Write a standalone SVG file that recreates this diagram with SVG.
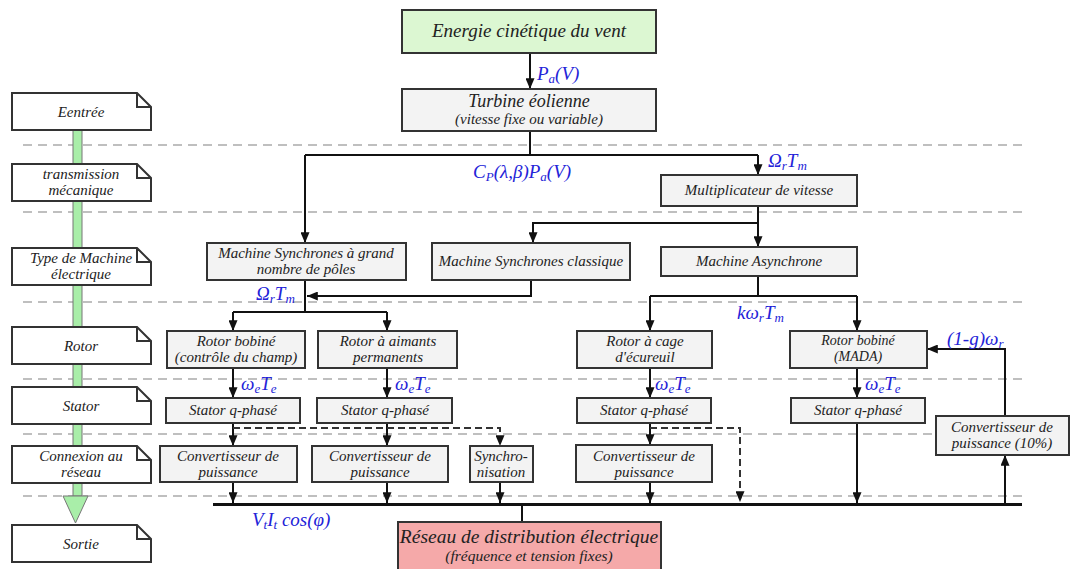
<svg xmlns="http://www.w3.org/2000/svg" width="1071" height="569" viewBox="0 0 1071 569" font-family="'Liberation Serif', 'DejaVu Serif', serif">
<style>
.box{fill:#f3f3f3;stroke:#333;stroke-width:2}
.note{fill:#fff;stroke:#333;stroke-width:2;stroke-linejoin:miter}
.t{font-family:'Liberation Serif','DejaVu Serif',serif;font-style:italic;fill:#222;text-anchor:middle;font-size:15px}
.s{font-size:13px}
.m{font-family:'Liberation Serif','DejaVu Serif',serif;font-style:italic;fill:#2323d8;font-size:19px}
.sub{font-size:13px}
.c{fill:none;stroke:#111;stroke-width:2}
.d{fill:none;stroke:#333;stroke-width:2;stroke-dasharray:7,4}
.g{fill:none;stroke:#aaa;stroke-width:1.5;stroke-dasharray:9,6}
</style>
<defs>
<marker id="ah" viewBox="0 0 12 10" refX="12" refY="5" markerWidth="12" markerHeight="9" markerUnits="userSpaceOnUse" orient="auto">
<path d="M0,0 L12,5 L0,10 Z" fill="#111"/>
</marker>
</defs>
<rect width="1071" height="569" fill="#fff"/>

<g id="layers">
<path class="g" d="M23,145 H1028 M23,212 H1028 M23,302 H1028 M23,379 H1028 M23,434 H1028 M23,496 H1028"/>
</g>

<g id="flow-bar">
<rect x="73" y="130" width="9" height="366" fill="#a9eea9" stroke="#777" stroke-width="1"/>
<path d="M63,496 H88 L75.5,523 Z" fill="#a9eea9" stroke="#777" stroke-width="1"/>
</g>

<g id="note-entree"><path class="note" d="M12,93 H137 L151,107 V130 H12 Z M137,93 V107 H151"/><text class="t" x="81" y="117">Eentrée</text></g>
<g id="note-transmission"><path class="note" d="M12,164 H137 L151,178 V201 H12 Z M137,164 V178 H151"/><text class="t" x="81" y="179">transmission</text><text class="t" x="81" y="195">mécanique</text></g>
<g id="note-type"><path class="note" d="M12,248 H137 L151,262 V285 H12 Z M137,248 V262 H151"/><text class="t" x="81" y="263">Type de Machine</text><text class="t" x="81" y="279">électrique</text></g>
<g id="note-rotor"><path class="note" d="M12,327 H137 L151,341 V364 H12 Z M137,327 V341 H151"/><text class="t" x="81" y="351">Rotor</text></g>
<g id="note-stator"><path class="note" d="M12,387 H137 L151,401 V424 H12 Z M137,387 V401 H151"/><text class="t" x="81" y="411">Stator</text></g>
<g id="note-connexion"><path class="note" d="M12,446 H137 L151,460 V483 H12 Z M137,446 V460 H151"/><text class="t" x="81" y="461">Connexion au</text><text class="t" x="81" y="477">réseau</text></g>
<g id="note-sortie"><path class="note" d="M12,525 H137 L151,539 V562 H12 Z M137,525 V539 H151"/><text class="t" x="81" y="549">Sortie</text></g>

<g id="connectors">
<path class="c" d="M530,53 V89" marker-end="url(#ah)"/>
<path class="c" d="M530,131 V155 M305,155 H758"/>
<path class="c" d="M305,155 V243" marker-end="url(#ah)"/>
<path class="c" d="M758,155 V175" marker-end="url(#ah)"/>
<path class="c" d="M758,206 V247" marker-end="url(#ah)"/>
<path class="c" d="M758,223 H533 V243" marker-end="url(#ah)"/>
<path class="c" d="M305,280 V312 M233,312 H387"/>
<path class="c" d="M531,280 V296 H307" marker-end="url(#ah)"/>
<path class="c" d="M233,312 V331" marker-end="url(#ah)"/>
<path class="c" d="M387,312 V331" marker-end="url(#ah)"/>
<path class="c" d="M758,276 V296 M650,296 H857"/>
<path class="c" d="M650,296 V331" marker-end="url(#ah)"/>
<path class="c" d="M857,296 V331" marker-end="url(#ah)"/>
<path class="c" d="M233,368 V398" marker-end="url(#ah)"/>
<path class="c" d="M387,368 V398" marker-end="url(#ah)"/>
<path class="c" d="M650,368 V398" marker-end="url(#ah)"/>
<path class="c" d="M857,368 V398" marker-end="url(#ah)"/>
<path class="c" d="M233,423 V446" marker-end="url(#ah)"/>
<path class="c" d="M387,423 V446" marker-end="url(#ah)"/>
<path class="c" d="M650,423 V445" marker-end="url(#ah)"/>
<path class="d" d="M233,428 H500 V446" marker-end="url(#ah)"/>
<path class="d" d="M650,428 H740 V502" marker-end="url(#ah)"/>
<path class="c" d="M233,482 V503" marker-end="url(#ah)"/>
<path class="c" d="M387,482 V503" marker-end="url(#ah)"/>
<path class="c" d="M500,482 V503" marker-end="url(#ah)"/>
<path class="c" d="M650,482 V503" marker-end="url(#ah)"/>
<path class="c" d="M857,423 V503" marker-end="url(#ah)"/>
<path class="c" d="M1005,504 V455" marker-end="url(#ah)"/>
<path class="c" d="M1005,415 V349 H927" marker-end="url(#ah)"/>
<path class="c" d="M522,504 V522"/>
<path fill="none" stroke="#111" stroke-width="3" d="M213,504.5 H1022"/>
</g>

<g id="labels">
<text class="m" x="537" y="80">P<tspan class="sub" dy="3">a</tspan><tspan dy="-3">(V)</tspan></text>
<text class="m" x="473" y="178">C<tspan class="sub" dy="3">P</tspan><tspan dy="-3">(λ,β)P</tspan><tspan class="sub" dy="3">a</tspan><tspan dy="-3">(V)</tspan></text>
<text class="m" x="768" y="167">Ω<tspan class="sub" dy="3">r</tspan><tspan dy="-3">T</tspan><tspan class="sub" dy="3">m</tspan></text>
<text class="m" x="256" y="300">Ω<tspan class="sub" dy="3">r</tspan><tspan dy="-3">T</tspan><tspan class="sub" dy="3">m</tspan></text>
<text class="m" x="737" y="319">kω<tspan class="sub" dy="3">r</tspan><tspan dy="-3">T</tspan><tspan class="sub" dy="3">m</tspan></text>
<text class="m" x="241" y="390">ω<tspan class="sub" dy="3">e</tspan><tspan dy="-3">T</tspan><tspan class="sub" dy="3">e</tspan></text>
<text class="m" x="395" y="390">ω<tspan class="sub" dy="3">e</tspan><tspan dy="-3">T</tspan><tspan class="sub" dy="3">e</tspan></text>
<text class="m" x="655" y="390">ω<tspan class="sub" dy="3">e</tspan><tspan dy="-3">T</tspan><tspan class="sub" dy="3">e</tspan></text>
<text class="m" x="865" y="390">ω<tspan class="sub" dy="3">e</tspan><tspan dy="-3">T</tspan><tspan class="sub" dy="3">e</tspan></text>
<text class="m" x="947" y="345">(1-g)ω<tspan class="sub" dy="3">r</tspan></text>
<text class="m" x="252" y="526">V<tspan class="sub" dy="3">t</tspan><tspan dy="-3">I</tspan><tspan class="sub" dy="3">t</tspan><tspan dy="-3"> cos(φ)</tspan></text>
</g>

<g id="energie"><rect x="402" y="10" width="254" height="43" fill="#dcf7d2" stroke="#333" stroke-width="2"/><text class="t" x="529" y="37" style="font-size:19px">Energie cinétique du vent</text></g>
<g id="turbine"><rect class="box" x="402" y="89" width="254" height="42"/><text class="t" x="529" y="107" style="font-size:18px">Turbine éolienne</text><text class="t" x="529" y="124">(vitesse fixe ou variable)</text></g>
<g id="multiplicateur"><rect class="box" x="661" y="175" width="196" height="31"/><text class="t" x="759" y="195">Multiplicateur de vitesse</text></g>
<g id="msgrand"><rect class="box" x="207" y="243" width="199" height="37"/><text class="t" x="306" y="258">Machine Synchrones à grand</text><text class="t" x="306" y="274">nombre de pôles</text></g>
<g id="msclassique"><rect class="box" x="432" y="243" width="198" height="37"/><text class="t" x="531" y="266">Machine Synchrones classique</text></g>
<g id="masync"><rect class="box" x="661" y="247" width="196" height="29"/><text class="t" x="759" y="266">Machine Asynchrone</text></g>
<g id="rotor-bobine"><rect class="box" x="167" y="331" width="138" height="37"/><text class="t" x="236" y="346">Rotor bobiné</text><text class="t" x="236" y="362">(contrôle du champ)</text></g>
<g id="rotor-aimants"><rect class="box" x="318" y="331" width="139" height="37"/><text class="t" x="388" y="346">Rotor à aimants</text><text class="t" x="388" y="362">permanents</text></g>
<g id="rotor-cage"><rect class="box" x="577" y="331" width="135" height="37"/><text class="t" x="645" y="346">Rotor à cage</text><text class="t" x="645" y="362">d'écureuil</text></g>
<g id="rotor-mada"><rect class="box" x="790" y="331" width="137" height="37"/><text class="t" x="858" y="345" style="font-size:14px">Rotor bobiné</text><text class="t" x="858" y="361" style="font-size:14px">(MADA)</text></g>
<g id="stator1"><rect class="box" x="166" y="398" width="134" height="25"/><text class="t" x="233" y="415">Stator  q-phasé</text></g>
<g id="stator2"><rect class="box" x="317" y="398" width="135" height="25"/><text class="t" x="385" y="415">Stator  q-phasé</text></g>
<g id="stator3"><rect class="box" x="577" y="398" width="134" height="25"/><text class="t" x="644" y="415">Stator  q-phasé</text></g>
<g id="stator4"><rect class="box" x="791" y="398" width="134" height="25"/><text class="t" x="858" y="415">Stator  q-phasé</text></g>
<g id="conv1"><rect class="box" x="160" y="446" width="137" height="36"/><text class="t" x="228" y="461">Convertisseur de</text><text class="t" x="228" y="477">puissance</text></g>
<g id="conv2"><rect class="box" x="312" y="446" width="136" height="36"/><text class="t" x="380" y="461">Convertisseur de</text><text class="t" x="380" y="477">puissance</text></g>
<g id="synchro"><rect class="box" x="470" y="446" width="63" height="36"/><text class="t" x="501" y="461">Synchro-</text><text class="t" x="501" y="477">nisation</text></g>
<g id="conv3"><rect class="box" x="576" y="445" width="136" height="37"/><text class="t" x="644" y="461">Convertisseur de</text><text class="t" x="644" y="477">puissance</text></g>
<g id="conv10"><rect class="box" x="936" y="416" width="133" height="39"/><text class="t" x="1002" y="432">Convertisseur de</text><text class="t" x="1002" y="448">puissance (10%)</text></g>
<g id="reseau"><rect x="398" y="522" width="263" height="52" fill="#f5a9a9" stroke="#333" stroke-width="2"/><text class="t" x="529" y="543" style="font-size:19.5px">Réseau de distribution électrique</text><text class="t" x="529" y="561" style="font-size:15.5px">(fréquence et tension fixes)</text></g>
</svg>
